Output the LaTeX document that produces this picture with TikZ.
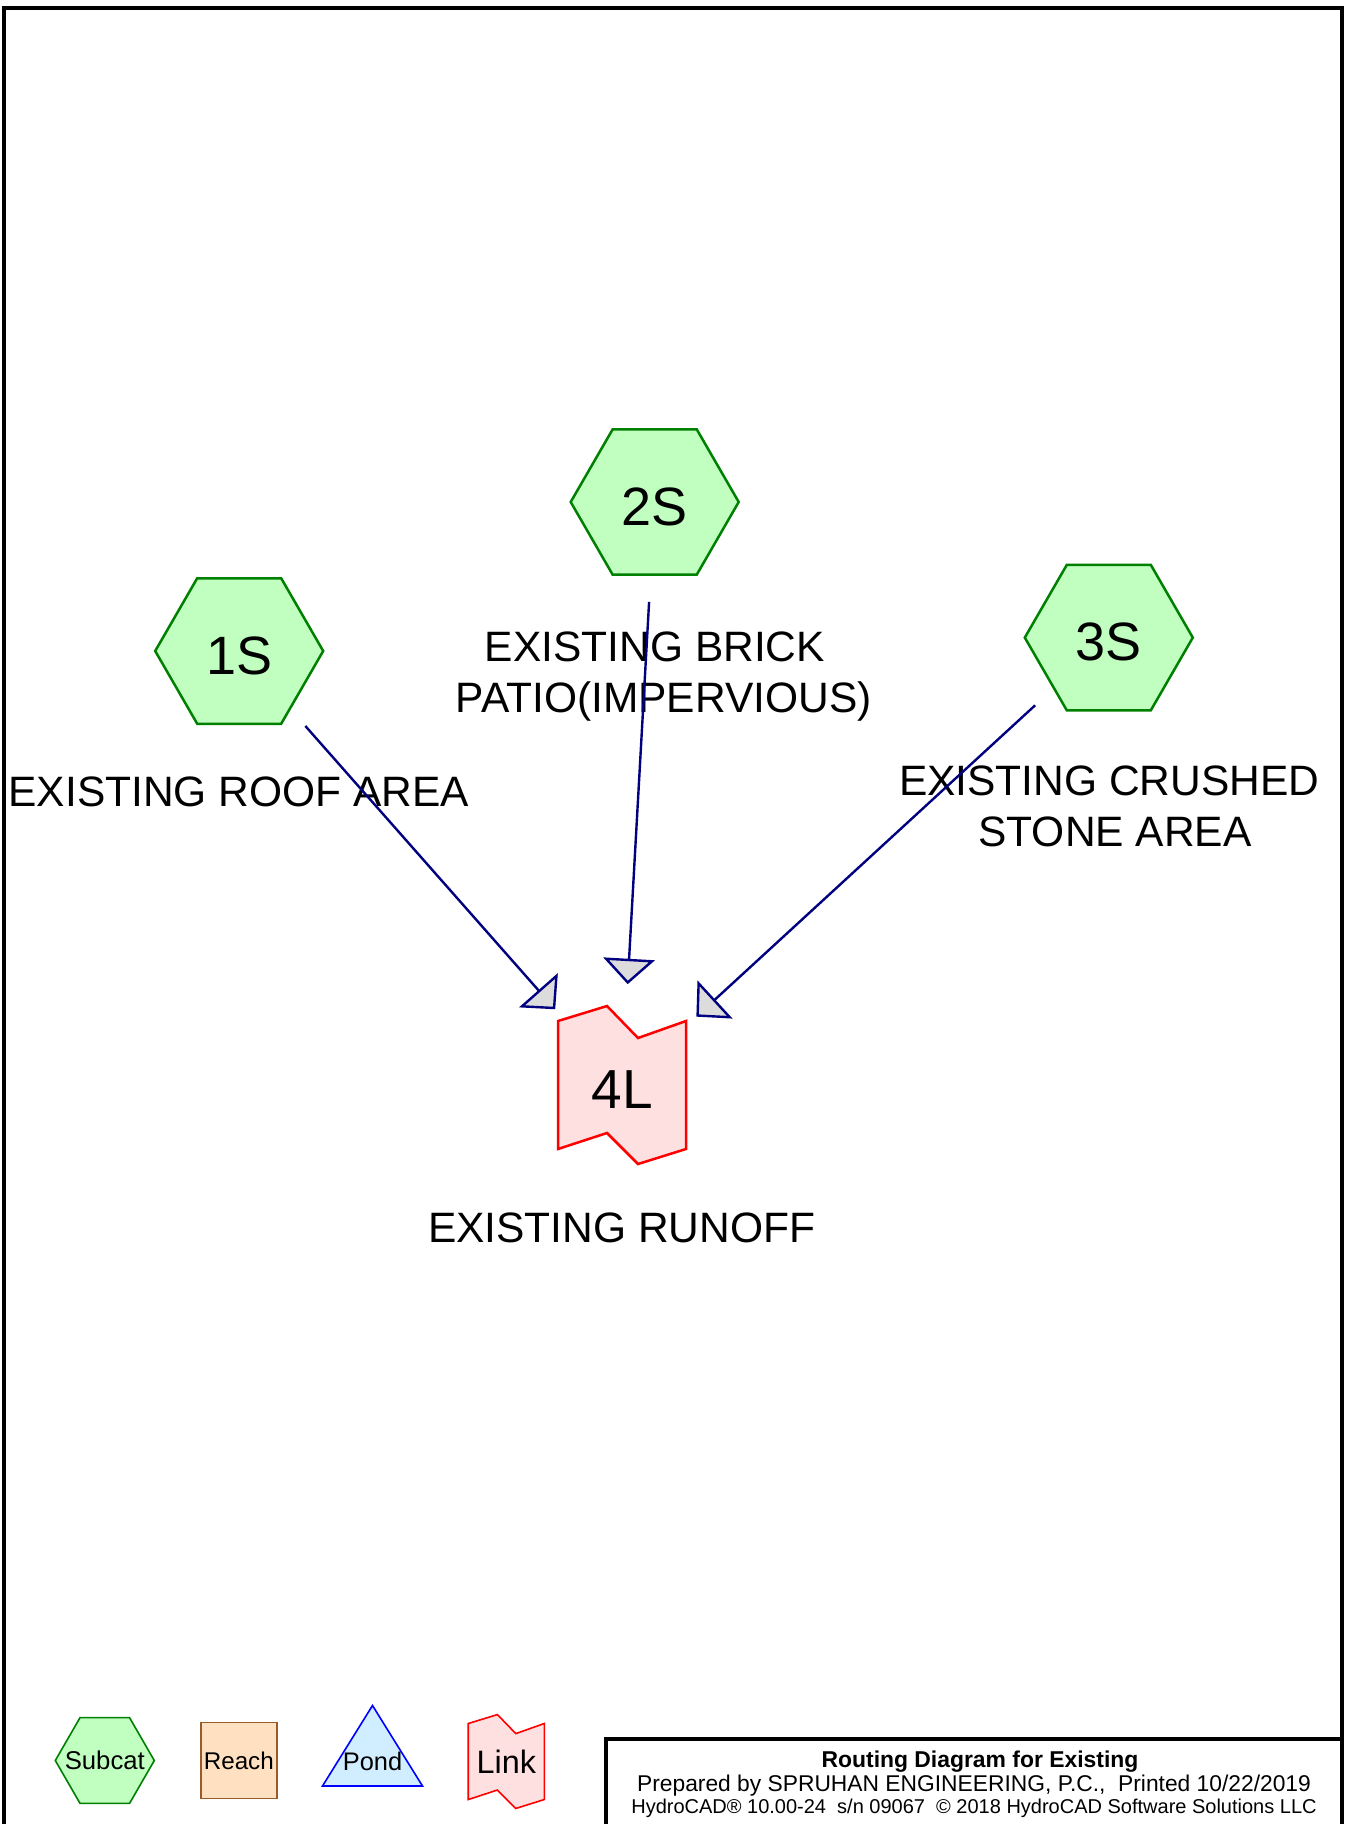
\documentclass[tikz,border=0pt]{standalone}
\usepackage{fontspec}
\setmainfont{Liberation Sans}
\usetikzlibrary{arrows.meta,shapes.geometric,backgrounds}

\definecolor{subfill}{RGB}{192,255,192}
\definecolor{subline}{RGB}{0,128,0}
\definecolor{linkfill}{RGB}{255,224,224}
\definecolor{linkline}{RGB}{255,0,0}
\definecolor{reachfill}{RGB}{255,224,192}
\definecolor{reachline}{RGB}{153,92,40}
\definecolor{pondfill}{RGB}{208,238,255}
\definecolor{pondline}{RGB}{0,0,255}
\definecolor{flowline}{RGB}{0,0,128}
\definecolor{headfill}{RGB}{220,220,220}

\begin{document}
\begin{tikzpicture}[x=0.5pt,y=-0.5pt,
  hexbase/.style={regular polygon, regular polygon sides=6, draw=subline,
    fill=subfill, inner sep=0pt, outer sep=0pt},
  subcat/.style={hexbase, line width=1.25pt, minimum size=84pt,
    text height=23pt, text depth=0pt, font=\fontsize{27}{32}\selectfont},
  linknode/.style={inner sep=0pt, minimum width=64pt, minimum height=64pt,
    text height=23pt, text depth=0pt, font=\fontsize{27.5}{32}\selectfont},
  lbl/.style={anchor=base, align=center, inner sep=0pt,
    font=\fontsize{21.25}{25.85}\selectfont},
  ttl/.style={anchor=base, inner sep=0pt},
  flow/.style={draw=flowline, line width=1.2pt, shorten <=50pt, shorten >=50.5pt,
    -{Triangle[length=12.7pt,width=25.7pt,fill=headfill]}},
  linkpoly/.pic={\draw[draw=linkline, fill=linkfill]
    (-64,-64) -- (-15,-79) -- (16,-47) -- (64,-64) -- (64,64)
    -- (16,79) -- (-15,48) -- (-64,64) -- cycle;},
]
\useasboundingbox (0,0) rectangle (1345,1824);
\begin{scope}[on background layer]
  \fill[white] (0,0) rectangle (1345,1824);
\end{scope}
\clip (0,0) rectangle (1345,1824);

% sheet frame and title block
\draw[line width=2pt] (4,1840) -- (4,8) -- (1342,8) -- (1342,1840);
\draw[line width=2pt] (606,1840) -- (606,1739) -- (1342,1739);

% subcatchments and link
\node[subcat] (s1) at (239.2,651) {1S};
\node[subcat] (s2) at (654.7,502) {2S};
\node[subcat] (s3) at (1108.8,637.6) {3S};
\node[linknode] (l4) at (622,1085) {4L};
\begin{scope}[on background layer]
  \pic[line width=1.25pt] at (l4.center) {linkpoly};
\end{scope}

% descriptions (base anchor sits on the last line)
\node[lbl] (d1) at (238.8,806.5) {EXISTING ROOF AREA};
\node[lbl] (d2) at (663.7,712.7) {EXISTING BRICK\hspace*{0.41em}\\PATIO(IMPERVIOUS)};
\node[lbl] (d3) at (1115,846.7) {EXISTING CRUSHED\hspace*{0.27em}\\STONE AREA};
\node[lbl] (d4) at (621.7,1242.7) {EXISTING RUNOFF};

% routing
\draw[flow] (s1.center) -- (l4.center);
\draw[flow] (s2.center) -- (l4.center);
\draw[flow] (s3.center) -- (l4.center);

% legend
\node[hexbase, line width=0.8pt, minimum size=49.5pt,
  font=\fontsize{12.85}{15}\selectfont] (g1) at (104.8,1760.5) {\makebox[0pt]{Subcat}};
\node[draw=reachline, fill=reachfill, line width=0.8pt, inner sep=0pt,
  minimum width=38pt, minimum height=38pt,
  font=\fontsize{12.1}{14}\selectfont] (g2) at (238.8,1760.5) {Reach};
\node[inner sep=0pt, font=\fontsize{12.7}{15}\selectfont] (g3) at (372.5,1761.5) {Pond};
\node[inner sep=0pt, font=\fontsize{16.2}{19}\selectfont] (g4) at (506.3,1761.5) {Link};
\begin{scope}[on background layer]
  \draw[draw=pondline, fill=pondfill, line width=0.8pt]
    ([shift={(0,-56)}]g3.center) -- ([shift={(-50,24.5)}]g3.center)
    -- ([shift={(50,24.5)}]g3.center) -- cycle;
  \pic[line width=0.8pt, scale=0.594] at (g4.center) {linkpoly};
\end{scope}

% title block text
\node[ttl, font=\bfseries\fontsize{11.45}{13}\selectfont] (h1) at (980,1767)
  {Routing Diagram for Existing};
\node[ttl, font=\fontsize{11.4}{13}\selectfont] (h2) at (974,1791)
  {Prepared by SPRUHAN ENGINEERING, P.C.,\ \ Printed 10/22/2019};
\node[ttl, font=\fontsize{10}{12}\selectfont] (h3) at (974,1813)
  {HydroCAD® 10.00-24\ \ s/n 09067\ \ © 2018 HydroCAD Software Solutions LLC};
\end{tikzpicture}
\end{document}
